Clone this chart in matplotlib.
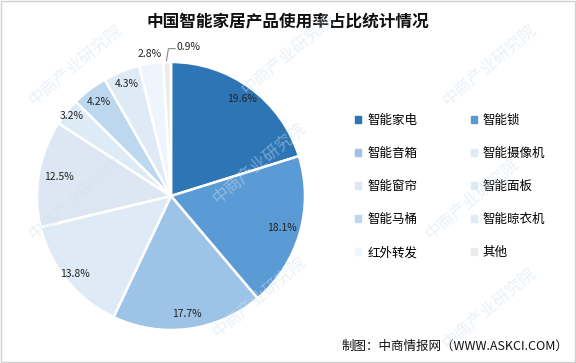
import numpy as np
import matplotlib
matplotlib.use('Agg')
import matplotlib.pyplot as plt
import matplotlib.patches as mpatches

plt.rcParams['font.family'] = ['Noto Sans CJK SC', 'DejaVu Sans']

labels = ['智能家电', '智能锁', '智能音箱', '智能摄像机', '智能窗帘',
          '智能面板', '智能马桶', '智能晾衣机', '红外转发', '其他']
values = [19.6, 18.1, 17.7, 13.8, 12.5, 3.2, 4.2, 4.3, 2.8, 0.9]
colors = ['#2E75B6', '#5B9BD5', '#9DC3E6', '#DEEAF6', '#DCE7F3',
          '#DDEBF7', '#BDD7EE', '#DEEBF7', '#EEF5FC', '#EBEBEB']
# radial position of each percentage label (fraction of radius)
label_r = [0.90, 0.86, 0.89, 0.92, 0.85, 0.95, 0.88, 0.90, 1.07, 1.20]

W, H = 576, 363
fig = plt.figure(figsize=(W / 100, H / 100), dpi=100)
fig.patch.set_facecolor('white')

cx, cy, r = 171, 196, 134
ax = fig.add_axes([(cx - r) / W, (H - cy - r) / H, 2 * r / W, 2 * r / H])
wedges, _ = ax.pie(values, colors=colors, startangle=90, counterclock=False,
                   radius=1, wedgeprops=dict(edgecolor='white', linewidth=1.8))
ax.set_xlim(-1, 1)
ax.set_ylim(-1, 1)
ax.axis('off')

for w, v, lr in zip(wedges, values, label_r):
    ang = np.deg2rad((w.theta1 + w.theta2) / 2)
    x, y = lr * np.cos(ang), lr * np.sin(ang)
    if v == 0.9:
        x0, y0 = np.cos(ang), np.sin(ang)
        ax.plot([x0 - 0.005, x0 + 0.01, x0 + 0.06], [y0 + 0.01, y0 + 0.1, y0 + 0.1],
                color='#888888', lw=0.8, clip_on=False)
        ax.text(x0 + 0.07, y0 + 0.11, f'{v}%', ha='left', va='center',
                fontsize=7.5, color='#222222')
    else:
        ax.text(x, y, f'{v}%', ha='center', va='center', fontsize=7.5,
                color='#222222')

fig.text(0.5, 0.94, '中国智能家居产品使用率占比统计情况', ha='center', va='center',
         fontsize=12, fontweight='bold', color='#111111')

# legend, two columns filled row by row
order = [0, 2, 4, 6, 8, 1, 3, 5, 7, 9]
handles = [mpatches.Patch(color=colors[i], label=labels[i]) for i in order]
fig.legend(handles=handles, ncol=2, loc='upper left',
           bbox_to_anchor=(344 / W, 1 - 103 / H), frameon=False,
           fontsize=9, handlelength=0.45, handleheight=0.45,
           handletextpad=0.5, columnspacing=4.3, labelspacing=1.6)

fig.text(568 / W, 1 - 346 / H, '制图：中商情报网（WWW.ASKCI.COM）', ha='right',
         va='center', fontsize=9, color='#111111')

# faint watermarks
for (wx, wy) in [(0.13, 0.82), (0.5, 0.85), (0.85, 0.82), (0.13, 0.45),
                 (0.45, 0.55), (0.82, 0.45), (0.45, 0.18), (0.85, 0.15)]:
    fig.text(wx, wy, '中商产业研究院', rotation=40, fontsize=12, color='#cfe0ee',
             alpha=0.45, ha='center', va='center', zorder=10)

fig.add_artist(mpatches.Rectangle((0.001, 0.002), 0.997, 0.995,
                                  transform=fig.transFigure, fill=False,
                                  edgecolor='#d0d0d0', lw=1))

fig.savefig('out.png', dpi=100, facecolor='white')
